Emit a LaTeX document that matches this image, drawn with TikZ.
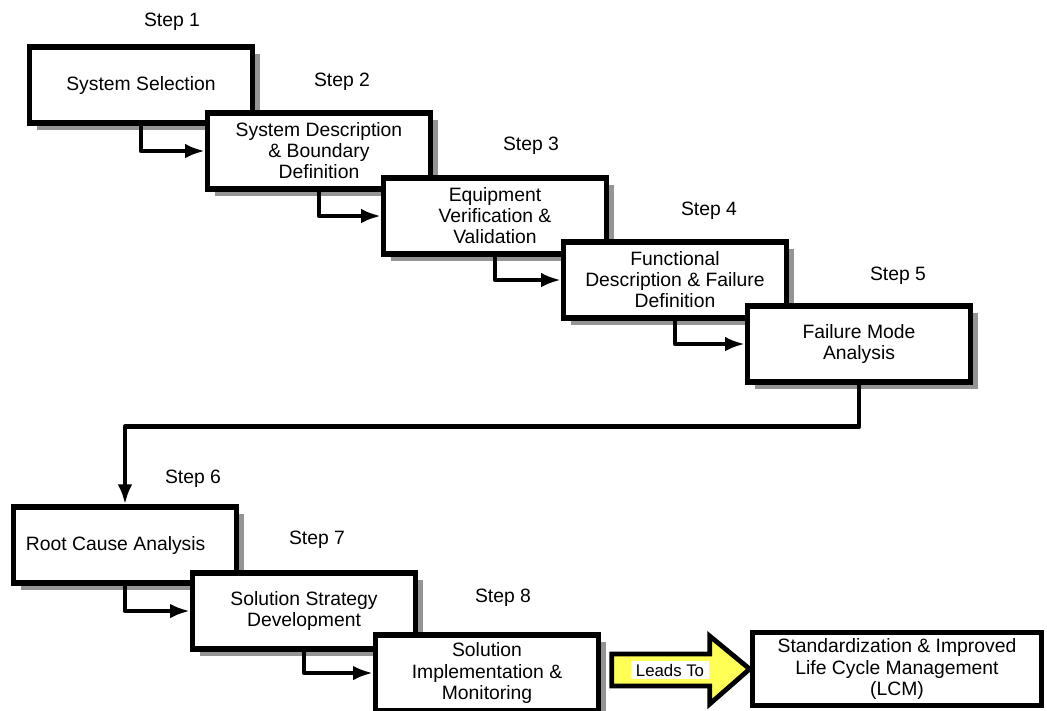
\documentclass[tikz,border=0pt]{standalone}
\usepackage{fontspec}
\setmainfont{Liberation Sans}
\usetikzlibrary{shadows,arrows.meta}
\definecolor{leadyellow}{RGB}{255,255,85}
\tikzset{
  stepbox/.style={draw, line width=4pt, fill=white, minimum width=167pt,
    minimum height=57pt, align=center, font=\fontsize{14.5}{15.8}\selectfont,
    drop shadow={shadow xshift=5.5pt, shadow yshift=-5.5pt, fill=black!42, opacity=1}},
  steplbl/.style={font=\fontsize{14.5}{15.8}\selectfont},
  flow/.style={-{Latex[length=15pt,width=11pt]}, line width=3.6pt, line join=round},
  leadsto/.style={draw, line width=3.6pt, fill=leadyellow, line join=miter},
}
\begin{document}
\begin{tikzpicture}[x=0.75pt, y=-0.75pt]
            \useasboundingbox (0,0) rectangle (1047,711);

            % Draw the step boxes and labels
            \node[steplbl] (l1) at (172,22) {Step 1};
            \node[stepbox] (s1) at (141,85) {System Selection};
            \node[steplbl] (l2) at (342,82) {Step 2};
            \node[stepbox] (s2) at (319,151) {System Description\\ \& Boundary\\ Definition};
            \node[steplbl] (l3) at (531,146) {Step 3};
            \node[stepbox] (s3) at (495,216) {Equipment\\ Verification \&\\ Validation};
            \node[steplbl] (l4) at (709,211) {Step 4};
            \node[stepbox] (s4) at (675,280) {Functional\\ Description \& Failure\\ Definition};
            \node[steplbl] (l5) at (898,276) {Step 5};
            \node[stepbox] (s5) at (859,344) {Failure Mode\\ Analysis};
            \node[steplbl] (l6) at (193,479) {Step 6};
            \node[stepbox] (s6) at (125,545) {Root Cause Analysis\hspace*{14pt}};
            \node[steplbl] (l7) at (317,540) {Step 7};
            \node[stepbox] (s7) at (304,611) {Solution Strategy\\ Development};
            \node[steplbl] (l8) at (503,598) {Step 8};
            \node[stepbox] (s8) at (487,673) {Solution\\ Implementation \&\\ Monitoring};

            % Draw the result box
            \node[draw, line width=4pt, fill=white, minimum width=217pt, minimum height=55pt,
              align=center, font=\fontsize{14.5}{15.8}\selectfont] (lcm) at (897,669)
              {Standardization \& Improved\\ Life Cycle Management\\ (LCM)};

            % Draw the connectors between steps
            \draw[flow] (s1.south) |- (s2.west);
            \draw[flow] (s2.south) |- (s3.west);
            \draw[flow] (s3.south) |- (s4.west);
            \draw[flow] (s4.south) |- (s5.west);
            \draw[flow] (s5.south) -- ++(0,42) -| (s6.north);
            \draw[flow] (s6.south) |- (s7.west);
            \draw[flow] (s7.south) |- (s8.west);

            % Draw the big arrow and its label
            \draw[leadsto] (lcm.west) -- ++(-40,-33) -- ++(0,18) -- ++(-98,0) -- ++(0,32)
              -- ++(98,0) -- ++(0,18) -- cycle;
            \node[fill=white, inner xsep=4pt, inner ysep=2pt, font=\fontsize{12.6}{14}\selectfont]
              (leads) at (670,670) {Leads To};
        \end{tikzpicture}
\end{document}
